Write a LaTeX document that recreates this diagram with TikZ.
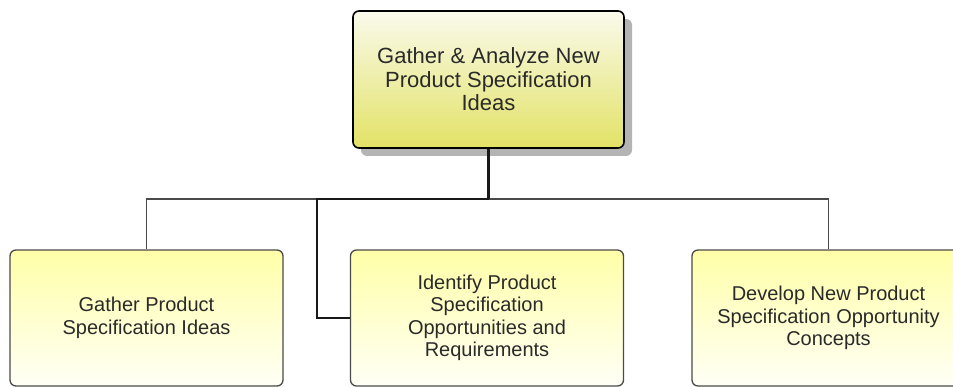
\documentclass[tikz,border=0pt]{standalone}
\usepackage{fontspec}
\setmainfont{Liberation Sans}
\definecolor{txt}{HTML}{2A2A2A}
\definecolor{parenttop}{HTML}{FAFAEC}
\definecolor{parentbot}{HTML}{E2E266}
\definecolor{childtop}{HTML}{FFFFA8}
\definecolor{childbot}{HTML}{FFFFF6}
\definecolor{shadowgray}{HTML}{B4B4B4}
\definecolor{edgegray}{HTML}{4A4A4A}
\begin{document}
\begin{tikzpicture}[x=1pt,y=-1pt,
  every node/.style={font=\fontsize{20}{22.5}\selectfont, text=txt, align=center, inner sep=0pt},
  parentbox/.style={draw=black, line width=1.6pt, rounded corners=6pt,
    minimum width=271pt, minimum height=137pt,
    top color=parenttop, bottom color=parentbot,
    font=\fontsize{22}{23.5}\selectfont},
  childbox/.style={draw=edgegray, line width=1.3pt, rounded corners=6pt,
    minimum width=273pt, minimum height=136pt,
    top color=childtop, bottom color=childbot},
  trunk/.style={draw=black!90, line width=2.2pt},
  conn/.style={draw=edgegray, line width=1.6pt}]
  \useasboundingbox (0,0) rectangle (953,387);
  % drop shadow of the parent task
  \fill[shadowgray, rounded corners=6pt] (361,19) rectangle (632,156);
  % parent task
  \node[parentbox] (top) at (488.5,79.5)
    {Gather \& Analyze New\\Product Specification\\Ideas};
  % child tasks
  \node[childbox] (b1) at (146.5,318) {Gather Product\\Specification Ideas};
  \node[childbox] (b2) at (487,318)
    {Identify Product\\Specification\\Opportunities and\\Requirements};
  \node[childbox] (b3) at (828.5,318)
    {Develop New Product\\Specification Opportunity\\Concepts};
  % connectors
  \coordinate (bus) at (488.5,199);
  \coordinate (elbow) at (317,199);
  \draw[conn] (bus) -| (b1.north);
  \draw[conn] (bus) -| (b3.north);
  \draw[trunk] (top.south) -- (bus);
  \draw[trunk] (bus) -- (elbow) |- (b2.west);
\end{tikzpicture}
\end{document}
